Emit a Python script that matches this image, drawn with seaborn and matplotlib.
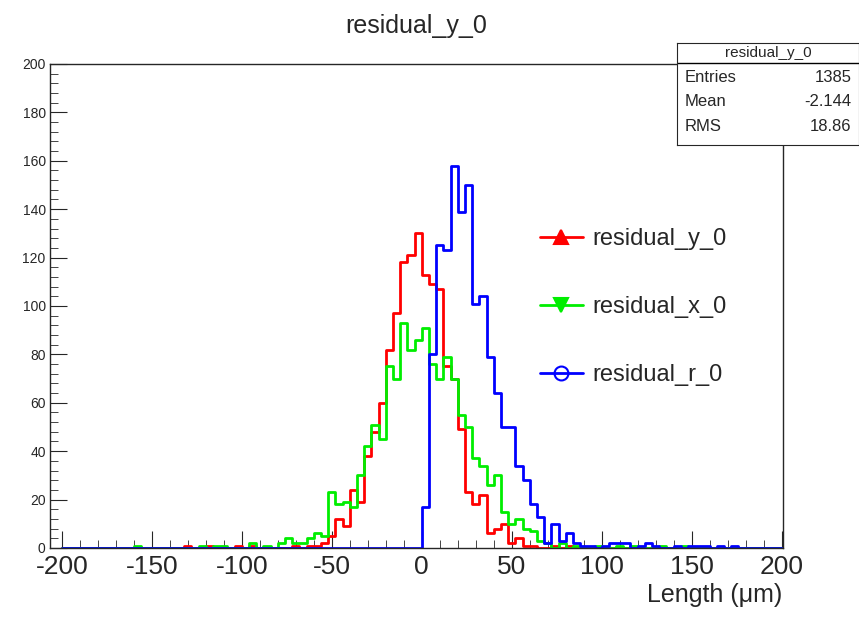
import numpy as np
import pandas as pd
import matplotlib
matplotlib.use("Agg")
import matplotlib.pyplot as plt
import seaborn as sns
from matplotlib.lines import Line2D
from matplotlib.ticker import MultipleLocator

sns.set_style("ticks")
plt.rcParams['font.family'] = ['Liberation Sans', 'DejaVu Sans']
plt.rcParams['axes.unicode_minus'] = False

# bin width 4 um, keyed by left bin edge
bin_edges = list(range(-200, 204, 4))
red_bins = {-132: 1, -120: 1, -104: 1, -96: 1, -72: 1, -64: 1, -60: 1, -56: 2, -52: 5,
            -48: 12, -44: 9, -40: 24, -36: 19, -32: 38, -28: 48, -24: 60, -20: 82,
            -16: 97, -12: 118, -8: 121, -4: 130, 0: 113, 4: 109, 8: 107, 12: 75,
            16: 70, 20: 49, 24: 23, 28: 18, 32: 22, 36: 6, 40: 8, 44: 10, 48: 2,
            52: 4, 56: 1, 60: 1, 72: 1, 80: 1}
green_bins = {-160: 1, -124: 1, -116: 1, -112: 1, -96: 2, -88: 1, -80: 2, -76: 4,
              -72: 2, -68: 2, -64: 4, -60: 6, -56: 5, -52: 23, -48: 18, -44: 19,
              -40: 17, -36: 30, -32: 42, -28: 51, -24: 45, -20: 75, -16: 70, -12: 93,
              -8: 82, -4: 86, 0: 91, 4: 76, 8: 70, 12: 79, 16: 70, 20: 55, 24: 50,
              28: 37, 32: 34, 36: 26, 40: 30, 44: 15, 48: 10, 52: 12, 56: 8, 60: 7,
              64: 3, 68: 2, 76: 2, 84: 1, 96: 1, 108: 1, 116: 1, 132: 1, 144: 1}
blue_bins = {0: 17, 4: 80, 8: 125, 12: 123, 16: 158, 20: 139, 24: 150, 28: 101,
             32: 104, 36: 79, 40: 64, 44: 50, 48: 50, 52: 34, 56: 28, 60: 18, 64: 13,
             68: 2, 72: 10, 76: 3, 80: 6, 84: 2, 88: 1, 92: 1, 100: 1, 104: 2, 108: 2,
             112: 2, 120: 1, 124: 2, 128: 1, 140: 1, 148: 1, 152: 1, 156: 1, 164: 1,
             172: 1}

series = [("residual_y_0", red_bins, "#ff0000", "^", "full"),
          ("residual_x_0", green_bins, "#00ee00", "v", "full"),
          ("residual_r_0", blue_bins, "#0000ff", "o", "none")]

fig = plt.figure(figsize=(8.59, 6.21), dpi=100)
ax = fig.add_axes([0.058, 0.1176, 0.853, 0.7794])

for name, bins, col, mk, fs in series:
    df = pd.DataFrame({"x": [k + 2.0 for k in sorted(bins)],
                       "w": [float(bins[k]) for k in sorted(bins)]})
    sns.histplot(data=df, x="x", weights="w", bins=bin_edges,
                 element="step", fill=False, color=col, linewidth=2, ax=ax)

ax.set_xlim(-206.7, 200.5)
ax.set_ylim(0, 200)
ax.xaxis.set_major_locator(MultipleLocator(50))
ax.xaxis.set_minor_locator(MultipleLocator(10))
ax.yaxis.set_major_locator(MultipleLocator(20))
ax.yaxis.set_minor_locator(MultipleLocator(4))
ax.tick_params(axis="x", which="major", direction="in", length=12, labelsize=19, pad=5)
ax.tick_params(axis="x", which="minor", direction="in", length=6)
ax.tick_params(axis="y", which="major", direction="in", length=12, labelsize=10, pad=3)
ax.tick_params(axis="y", which="minor", direction="in", length=6)
ax.set_ylabel("")
ax.set_xlabel("Length (\u03bcm)", fontsize=18, loc="right", labelpad=3)
for s in ax.spines.values():
    s.set_linewidth(1)

fig.text(0.485, 0.958, "residual_y_0", ha="center", va="center", fontsize=18)

# stats box
bx = fig.add_axes([0.788, 0.766, 0.212, 0.165])
bx.set_xticks([]); bx.set_yticks([])
bx.set_xlim(0, 1); bx.set_ylim(0, 4)
bx.axhline(3.2, color="black", lw=1)
bx.text(0.5, 3.6, "residual_y_0", ha="center", va="center", fontsize=11)
for i, (k, v) in enumerate([("Entries", "1385"), ("Mean", "-2.144"), ("RMS", "18.86")]):
    y = 2.65 - i * 0.95
    bx.text(0.04, y, k, ha="left", va="center", fontsize=12)
    bx.text(0.96, y, v, ha="right", va="center", fontsize=12)

handles = [Line2D([], [], color=c, lw=2, marker=m, markersize=10, fillstyle=f,
                  markeredgewidth=1.5) for _, _, c, m, f in series]
ax.legend(handles, [s[0] for s in series], loc="upper left",
          bbox_to_anchor=(0.64, 0.705), frameon=False, fontsize=17,
          labelspacing=1.95, handlelength=1.8, handletextpad=0.4)

fig.savefig("out.png", dpi=100)
